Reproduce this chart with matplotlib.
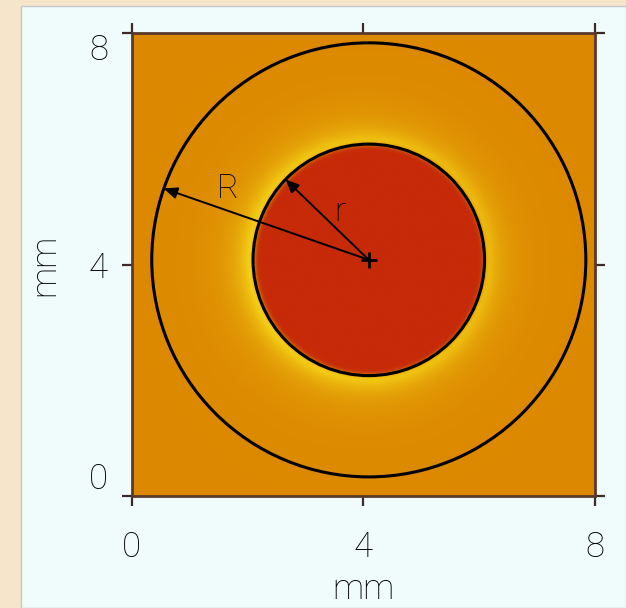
import numpy as np
import matplotlib
matplotlib.use("Agg")
import matplotlib.pyplot as plt
from matplotlib.colors import LinearSegmentedColormap
from matplotlib.patches import Rectangle, Circle

# Geometry of the sample (mm)
center = (4.1, 4.08)
inner_radius = 2.0      # r
outer_radius = 3.75     # R
arrow_angle_R = 160.8   # degrees
arrow_angle_r = 136.0
ticks = [0, 4, 8]
tick_labels = ["0", "4", "8"]
axis_label = "mm"

# Colour levels of the map: disc interior, surrounding medium, rim glow
level_colors = ["#c62a08", "#dc8800", "#fff020"]

FONT = dict(family=["Roboto", "Liberation Sans"], weight="light")
TEXT_COLOR = "#000000"

fig = plt.figure(figsize=(6.26, 6.08), dpi=100, facecolor="#f4e5cb")
fig.patches.append(Rectangle((21 / 626, 0), 1 - 21 / 626, 1 - 6 / 608,
                             transform=fig.transFigure, facecolor="#f0fcfc",
                             edgecolor="#c8c8c8", linewidth=1.0, zorder=-10))

ax = fig.add_axes([131 / 626, 1 - 496 / 608, 464 / 626, 463 / 608])
ax.set_zorder(1)

# Concentration field on an 8 x 8 mm grid
n = 400
xs = np.linspace(0, 8, n)
X, Y = np.meshgrid(xs, xs)
dx, dy = X - center[0], Y - center[1]
d = np.hypot(dx, dy)
theta = np.arctan2(dy, dx)
edge = 1.0 / (1.0 + np.exp(-(d - inner_radius) / 0.025))
outside = np.clip(d - inner_radius, 0, None)
glow_strength = 0.85 + 0.15 * np.cos(theta - np.pi * 1.1)
glow = glow_strength * (0.8 * np.exp(-outside / 0.22)
                        + 0.2 * np.exp(-outside / 0.7))
field = edge * (1.0 + glow)

cmap = LinearSegmentedColormap.from_list("sample", level_colors)
ax.imshow(field, extent=(0, 8, 0, 8), origin="lower", cmap=cmap,
          vmin=0, vmax=2, interpolation="bilinear", zorder=0)

# Boundary circles
for rad in (inner_radius, outer_radius):
    ax.add_patch(Circle(center, rad, fill=False, edgecolor="black",
                        linewidth=2.2, zorder=2))

# Radius arrows and labels
for rad, ang in ((outer_radius, arrow_angle_R), (inner_radius, arrow_angle_r)):
    a = np.deg2rad(ang)
    tip = (center[0] + rad * np.cos(a), center[1] + rad * np.sin(a))
    ax.annotate("", xy=tip, xytext=center,
                arrowprops=dict(arrowstyle="-|>,head_length=0.8,head_width=0.35",
                                color="black", lw=1.4, shrinkA=0, shrinkB=0),
                zorder=3)
ax.text(1.67, 5.3, "R", fontsize=24, ha="center", va="center",
        color=TEXT_COLOR, zorder=4, **FONT)
ax.text(3.6, 4.9, "r", fontsize=24, ha="center", va="center",
        color=TEXT_COLOR, zorder=4, **FONT)
ax.plot([center[0]], [center[1]], marker="+", markersize=12,
        markeredgewidth=2, color="black", zorder=4)

ax.set_xlim(0, 8)
ax.set_ylim(0, 8)
ax.set_xticks(ticks)
ax.set_yticks(ticks)
ax.set_xticklabels(tick_labels)
ax.set_yticklabels(tick_labels)
ax.tick_params(direction="out", length=7, width=1.6, color="#3a2a2a",
               top=True, right=True, labelsize=25, labelcolor=TEXT_COLOR)
ax.tick_params(axis="x", pad=18)
ax.tick_params(axis="y", pad=10)
for lab in ax.get_xticklabels() + ax.get_yticklabels():
    lab.set_family(FONT["family"])
    lab.set_weight(FONT["weight"])
ylabs = ax.get_yticklabels()
ylabs[0].set_va("bottom")
ylabs[-1].set_va("top")
for sp in ax.spines.values():
    sp.set_color("#5a3a2c")
    sp.set_linewidth(2.0)

ax.set_xlabel(axis_label, fontsize=25, color=TEXT_COLOR, labelpad=6, **FONT)
ax.set_ylabel(axis_label, fontsize=25, color=TEXT_COLOR, labelpad=20, **FONT)

fig.savefig("out.png", dpi=100, facecolor=fig.get_facecolor())
